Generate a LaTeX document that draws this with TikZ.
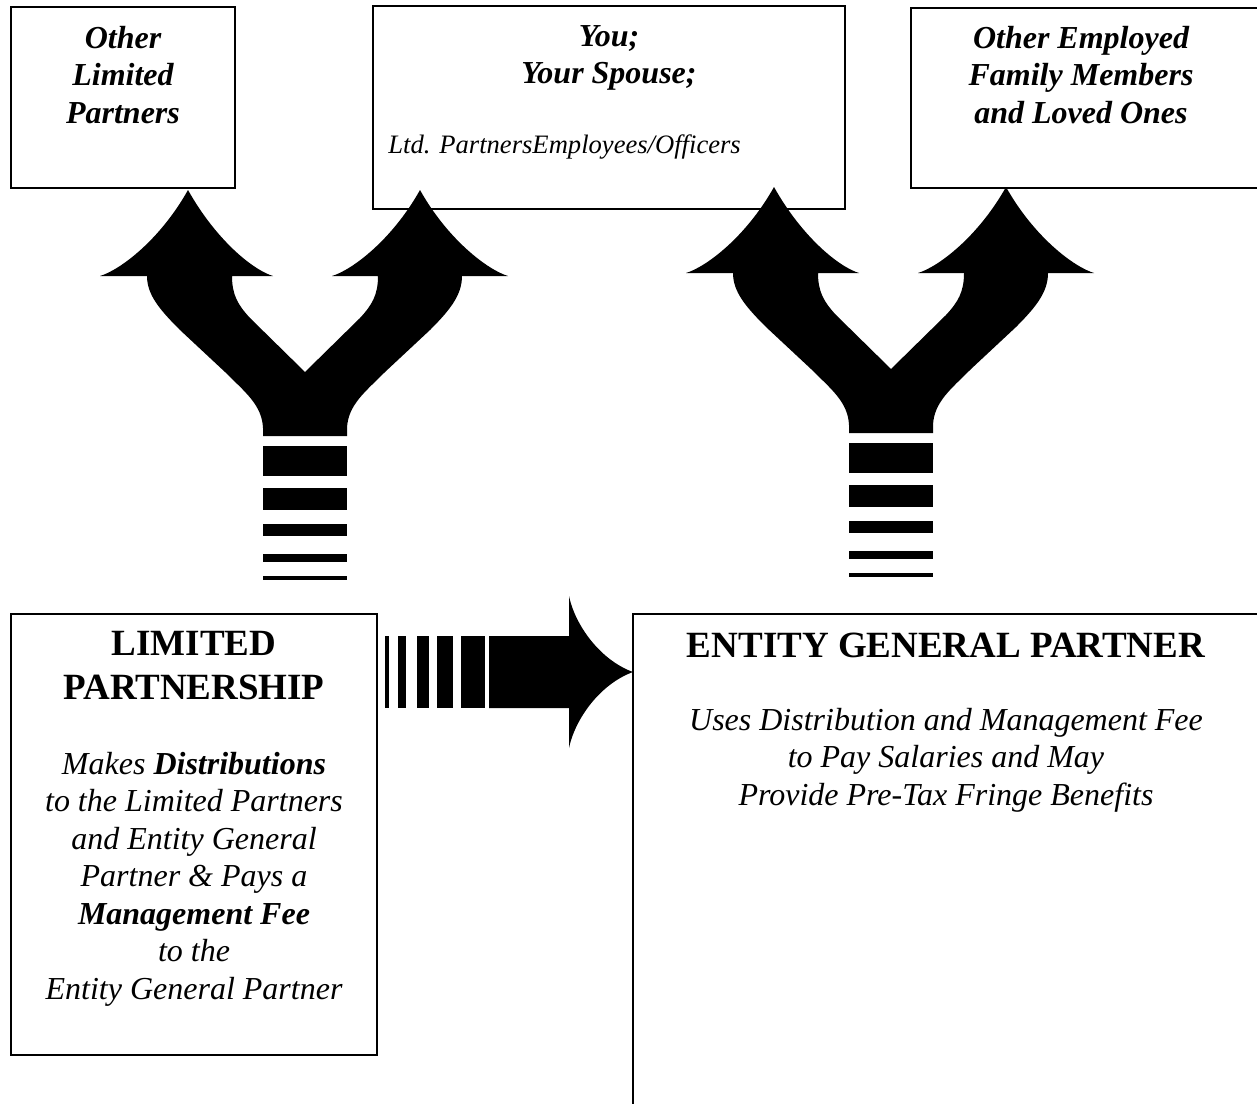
\documentclass[tikz,border=0pt]{standalone}
\usepackage{fontspec}
\setmainfont{Liberation Serif}
\tikzset{
  partbox/.style={draw, line width=1pt},
  toptext/.style={font=\fontsize{16}{18.75}\selectfont\bfseries\itshape, align=center},
  headtext/.style={font=\fontsize{18.5}{22}\selectfont\bfseries, align=center},
  bodytext/.style={font=\fontsize{16}{18.75}\selectfont\itshape, align=center},
  smalltext/.style={font=\fontsize{13.3}{16}\selectfont\itshape, inner sep=0pt},
  blockarrow/.style={fill=black},
}
\begin{document}
\begin{tikzpicture}[x=0.5pt,y=-0.5pt]
  \useasboundingbox (0,0) rectangle (1257,1103);
  % boxes on top
  \draw[partbox] (11,7) rectangle (235,188);
  \draw[partbox] (373,6) rectangle (845,209);
  \draw[partbox] (1258,8) -- (911,8) -- (911,188) -- (1258,188);
  \draw(123,75) node[toptext] (olp) {Other\\Limited\\Partners};
  \draw(609,58) node[toptext] (you) {You;\\Your Spouse;};
  \draw(388,147) node[smalltext, anchor=west] (ltd) {Ltd. PartnersEmployees/Officers};
  \draw(1081,75) node[toptext] (oef) {Other Employed\\Family Members\\and Loved Ones};
  % boxes below
  \draw[partbox] (11,614) rectangle (377,1055);
  \draw[partbox] (1258,614) -- (633,614) -- (633,1104);
  \draw(194,666) node[headtext] (lp) {LIMITED\\PARTNERSHIP};
  \draw(194,879) node[bodytext] (lptext) {Makes \textbf{Distributions}\\to the Limited Partners\\and Entity General\\Partner \& Pays a\\\textbf{Management Fee}\\to the\\Entity General Partner};
  \draw(946,645) node[headtext] (egp) {ENTITY GENERAL PARTNER};
  \draw(946,760) node[bodytext] (egptext) {Uses Distribution and Management Fee\\to Pay Salaries and May\\Provide Pre-Tax Fringe Benefits};
  % split arrows
  \foreach \dx/\dy in {0/0,586/-3}{
    \begin{scope}[shift={(\dx,\dy)}]
      \fill[blockarrow] (263,436) -- (263,428) .. controls (262,405) and (245,392) .. (225,372)
        -- (180,330) .. controls (160,310) and (147,295) .. (147,276)
        -- (100,276) .. controls (120,270) and (160,240) .. (188,190)
        .. controls (216,240) and (253,270) .. (273,276)
        -- (232,276) .. controls (232,295) and (238,305) .. (250,318)
        -- (305,372) -- (360,318) .. controls (372,305) and (378,295) .. (378,276)
        -- (332,276) .. controls (352,270) and (392,240) .. (420,190)
        .. controls (448,240) and (488,270) .. (508,276)
        -- (462,276) .. controls (462,295) and (450,310) .. (430,330)
        -- (385,372) .. controls (365,392) and (348,405) .. (347,428)
        -- (347,436) -- cycle;
      \foreach \ya/\yb in {446/476,488/510,524/536,554/562,576/580}
        \fill[blockarrow] (263,\ya) rectangle (347,\yb);
    \end{scope}
  }
  % striped arrow to the general partner
  \fill[blockarrow] (489,636) -- (569,636) -- (569,596) .. controls (575,625) and (600,660) .. (633,672)
    .. controls (600,684) and (575,719) .. (569,748) -- (569,708) -- (489,708) -- cycle;
  \foreach \xa/\xb in {385/389,398/406,417/429,437/453,461/485}
    \fill[blockarrow] (\xa,636) rectangle (\xb,708);
\end{tikzpicture}
\end{document}
